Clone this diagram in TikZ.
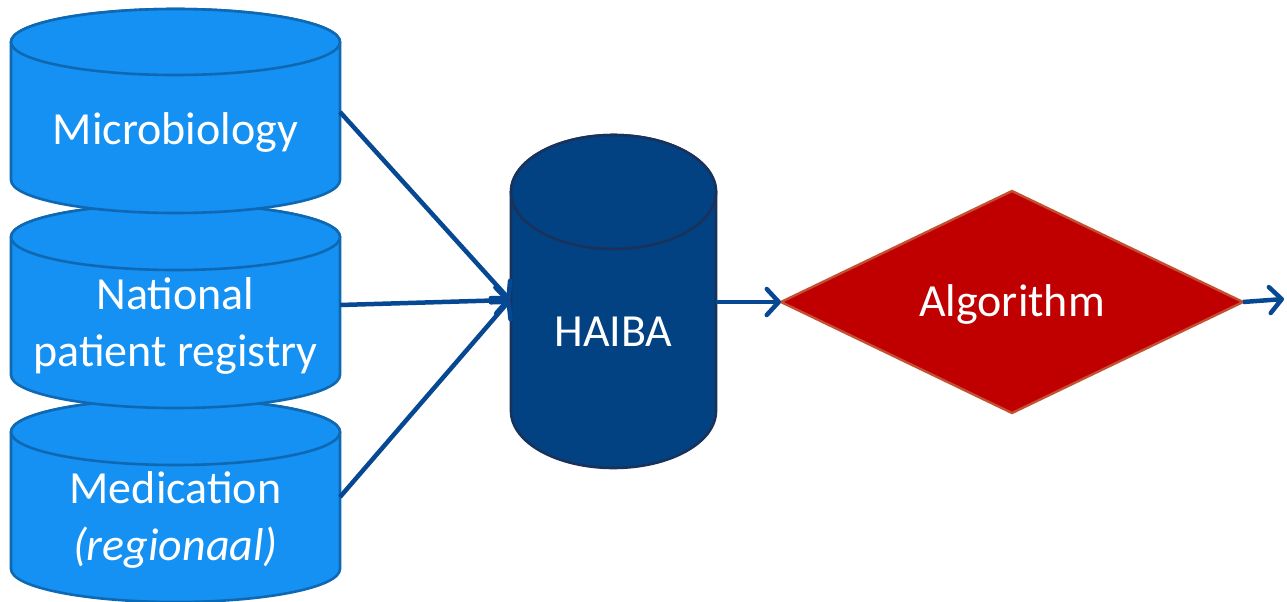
\documentclass[tikz,border=0pt]{standalone}
\usepackage{fontspec}
\setmainfont{Carlito}
\usetikzlibrary{arrows.meta}
\definecolor{lightdb}{RGB}{21,145,244}
\definecolor{lightdbline}{RGB}{14,104,178}
\definecolor{haibafill}{RGB}{2,66,131}
\definecolor{haibaline}{RGB}{24,50,92}
\definecolor{algfill}{RGB}{192,0,0}
\definecolor{algline}{RGB}{196,80,50}
\definecolor{arrowblue}{RGB}{6,72,145}
\newcommand{\dbcylinder}[6]{% cx, yt, yb, rx, ry, style
  \path[#6] (#1-#4,-#2) -- (#1-#4,-#3)
    arc[start angle=180,end angle=360,x radius=#4,y radius=#5]
    -- (#1+#4,-#2)
    arc[start angle=0,end angle=180,x radius=#4,y radius=#5] -- cycle;
  \path[#6] (#1,-#2) ellipse[x radius=#4,y radius=#5];
}
\begin{document}
\begin{tikzpicture}[x=1pt,y=1pt,
  srcdb/.style={fill=lightdb,draw=lightdbline,line width=2.6pt},
  maindb/.style={fill=haibafill,draw=haibaline,line width=2.6pt},
  lbl/.style={text=white,font=\fontsize{46}{57}\selectfont,align=center,inner sep=0pt},
  flow/.style={draw=arrowblue,line width=4.5pt,-{Straight Barb[length=12pt,width=26pt,line cap=round,line join=round]}}]
\useasboundingbox (0,0) rectangle (1287,-602);
% source cylinders (bottom first so upper ones lie on top)
\dbcylinder{175.5}{432}{569}{164.5}{33}{srcdb}
\dbcylinder{175.5}{237}{375}{164.5}{33}{srcdb}
\dbcylinder{175.5}{42}{180}{164.5}{33}{srcdb}
\node[lbl] (micro) at (175.5,-132) {Microbiology};
\node[lbl] (npr) at (175.5,-326) {National\\patient registry};
\node[lbl] (med) at (175.5,-520) {Medication\\\textit{(regionaal)}};
% HAIBA cylinder
\dbcylinder{613.5}{192}{411}{102.5}{57}{maindb}
\node[lbl] (haiba) at (613.5,-332) {HAIBA};
% Algorithm diamond
\coordinate (algW) at (781,-302);
\coordinate (algE) at (1243,-302);
\coordinate (algN) at (1012,-191);
\coordinate (algS) at (1012,-413);
\path[fill=algfill,draw=algline,line width=2.4pt] (algW) -- (algN) -- (algE) -- (algS) -- cycle;
\node[lbl] (alg) at (1012,-304) {Algorithm};
% connector end points
\coordinate (microOut) at (340,-112);
\coordinate (nprOut) at (340,-305);
\coordinate (medOut) at (340,-497);
\coordinate (haibaIn) at (510,-300);
\coordinate (haibaOut) at (716,-302);
\coordinate (exitEnd) at (1284,-299);
\draw[flow] (microOut) -- (haibaIn);
\draw[flow] (nprOut) -- (haibaIn);
\draw[flow] (medOut) -- (haibaIn);
\draw[flow] (haibaOut) -- (algW);
\draw[flow] (algE) -- (exitEnd);
\end{tikzpicture}
\end{document}
